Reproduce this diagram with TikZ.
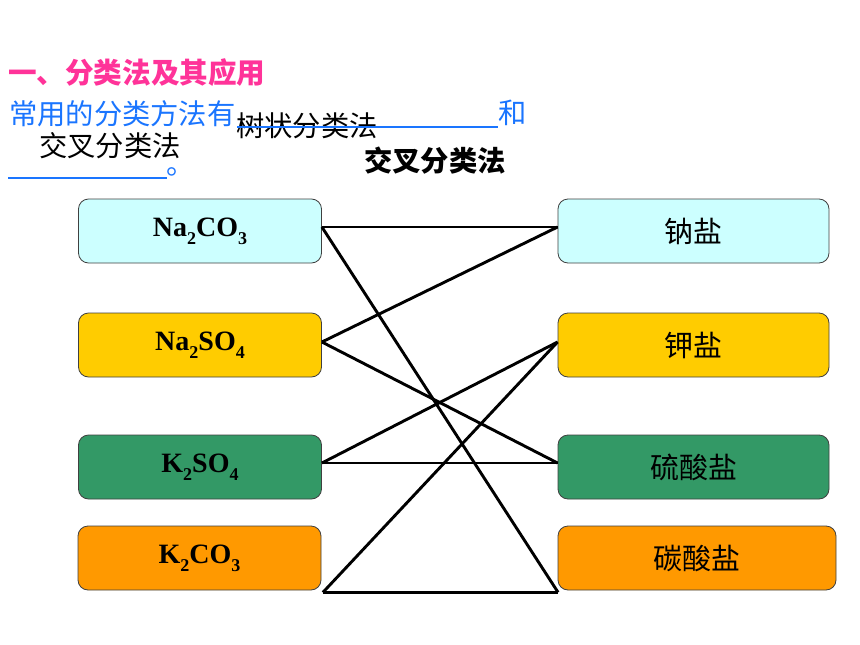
\documentclass[tikz,border=0pt]{standalone}
\usepackage{fontspec}
\setmainfont{Liberation Serif}
\newfontfamily\cjk{Noto Sans CJK SC}
\definecolor{cyanbox}{HTML}{CCFFFF}
\definecolor{goldbox}{HTML}{FFCC00}
\definecolor{greenbox}{HTML}{339966}
\definecolor{orangebox}{HTML}{FF9900}
\definecolor{pinktxt}{HTML}{FF3399}
\definecolor{bluetxt}{HTML}{1A75FF}
\definecolor{boxedge}{HTML}{404040}
\newcommand{\chemsub}[1]{\raisebox{-0.28em}{\fontsize{18}{20}\selectfont #1}}
\tikzset{
  cbox/.style={draw=boxedge, line width=0.8pt, rounded corners=10pt,
    minimum height=64pt, inner sep=0pt, text=black},
  lbox/.style={cbox, minimum width=243pt, font=\fontsize{28}{30}\selectfont\bfseries},
  rbox/.style={cbox, font=\cjk\fontsize{29}{32}\selectfont},
  link/.style={draw=black, line width=2.9pt},
  cjktxt/.style={inner sep=0pt, anchor=west, font=\cjk\fontsize{28.3}{32}\selectfont},
  blueline/.style={draw=bluetxt, line width=1.3pt}
}
\begin{document}
\begin{tikzpicture}[x=1pt,y=-1pt]
\useasboundingbox[fill=white] (0,0) rectangle (860,645);

% headings
\node[cjktxt, text=pinktxt, font=\cjk\bfseries\fontsize{28.6}{32}\selectfont] (title) at (8,73) {一、分类法及其应用};
\node[cjktxt, text=bluetxt] (l2) at (9,114) {常用的分类方法有};
\node[cjktxt, text=bluetxt] (he) at (498,113) {和};
\node[cjktxt, text=black] (shu) at (236,126) {树状分类法};
\node[cjktxt, text=black] (jc1) at (39,146) {交叉分类法};
\node[cjktxt, text=bluetxt, anchor=base west] (dot) at (166,174) {\smash{。}};
\node[cjktxt, text=black, font=\cjk\bfseries\fontsize{28.3}{32}\selectfont] (jc2) at (364,161) {交叉分类法};
\coordinate (u1a) at (237,127);
\coordinate (u1b) at (498,127);
\coordinate (u2a) at (8,178);
\coordinate (u2b) at (167,178);
\draw[blueline] (u1a) -- (u1b);
\draw[blueline] (u2a) -- (u2b);

% left boxes
\node[lbox, fill=cyanbox] (nc) at (200,231) {Na\chemsub{2}CO\chemsub{3}};
\node[lbox, fill=goldbox] (ns) at (200,345) {Na\chemsub{2}SO\chemsub{4}};
\node[lbox, fill=greenbox] (ks) at (200,467) {K\chemsub{2}SO\chemsub{4}};
\node[lbox, fill=orangebox] (kc) at (199.5,558) {K\chemsub{2}CO\chemsub{3}};

% right boxes
\node[rbox, fill=cyanbox, minimum width=271pt] (na) at (693.5,231) {钠盐};
\node[rbox, fill=goldbox, minimum width=271pt] (ka) at (693.5,345) {钾盐};
\node[rbox, fill=greenbox, minimum width=271pt] (su) at (693.5,467) {硫酸盐};
\node[rbox, fill=orangebox, minimum width=278pt] (ca) at (697,558) {碳酸盐};

% connector end points
\coordinate (pnc) at ([yshift=4pt]nc.east);
\coordinate (pns) at ([yshift=3pt]ns.east);
\coordinate (pks) at ([yshift=4pt]ks.east);
\coordinate (pkc) at ([xshift=1.5pt,yshift=-2pt]kc.south east);
\coordinate (pna) at ([yshift=4pt]na.west);
\coordinate (pka) at ([yshift=3pt]ka.west);
\coordinate (psu) at ([yshift=4pt]su.west);
\coordinate (pca) at ([xshift=0.5pt,yshift=-2pt]ca.south west);

% connectors
\draw[link] (pnc) -- (pna);
\draw[link] (pnc) -- (pca);
\draw[link] (pns) -- (pna);
\draw[link] (pns) -- (psu);
\draw[link] (pks) -- (pka);
\draw[link] (pks) -- (psu);
\draw[link] (pkc) -- (pka);
\draw[link] (pkc) -- (pca);
\end{tikzpicture}
\end{document}
